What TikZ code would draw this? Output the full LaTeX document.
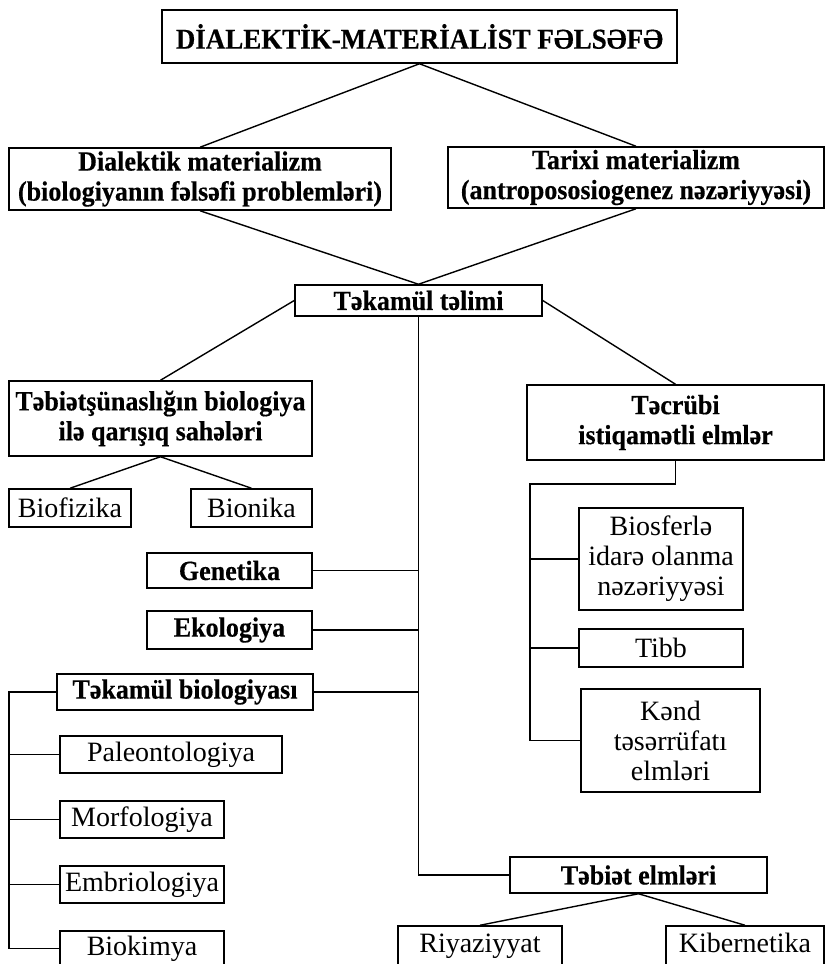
\documentclass[tikz,border=0pt]{standalone}
\usepackage{fontspec}
\setmainfont{Liberation Serif}[BoldFeatures={FakeStretch=0.94,FakeBold=0.4}]
\usepackage{tikz}
\usetikzlibrary{calc}
\tikzset{
	box/.style={draw,line width=1.5pt,inner sep=0pt,align=center,
		font=\fontsize{28}{30}\selectfont},
	bbox/.style={box,font=\fontsize{27.7}{30}\selectfont\bfseries},
	wh/.style 2 args={minimum width=#1pt,minimum height=#2pt},
	base/.style={text height=19pt,text depth=6pt},
	ln/.style={line width=1.4pt}
}

\begin{document}
\begin{tikzpicture}[x=1pt,y=-1pt]
\useasboundingbox (0,0) rectangle (825,964);

%Sommet
\node[bbox,wh={515}{53},font=\fontsize{28.7}{30}\selectfont\bfseries] (titl) at (419.5,36.5) {DİALEKTİK-MATERİALİST FƏLSƏFƏ};
\node[bbox,wh={382}{62}] (dial) at (200,179) {Dialektik materializm\\(biologiyanın fəlsəfi problemləri)};
\node[bbox,wh={376}{61}] (tarx) at (636,177.5) {Tarixi materializm\\(antropososiogenez nəzəriyyəsi)};
\node[bbox,wh={247}{31}] (tkml) at (418.5,300.5) {Təkamül təlimi};

%Branche gauche
\node[bbox,wh={303}{75}] (tbsn) at (160.5,418.5) {Təbiətşünaslığın biologiya\\ilə qarışıq sahələri};
\node[box,wh={122}{38}] (bfz) at (70,508) {Biofizika};
\node[box,wh={121}{38}] (bnk) at (251.5,508) {Bionika};
\node[bbox,wh={165}{35}] (gen) at (229.5,570.5) {Genetika};
\node[bbox,wh={165}{38}] (eko) at (229.5,630) {Ekologiya};
\node[bbox,wh={256}{36}] (tkb) at (185,692) {Təkamül biologiyası};
\node[box,wh={222}{37}] (pal) at (171,754.5) {Paleontologiya};
\node[box,wh={164}{37}] (mor) at (142,819.5) {Morfologiya};
\node[box,wh={164}{37}] (emb) at (142,884.5) {Embriologiya};
\node[box,base,wh={164}{35}] (bkm) at (142,948.5) {Biokimya};

%Branche droite
\node[bbox,wh={297}{75}] (tcr) at (675.5,422.5) {Təcrübi\\istiqamətli elmlər};
\node[box,wh={164}{102}] (bio) at (661,559) {Biosferlə\\idarə olanma\\nəzəriyyəsi};
\node[box,wh={164}{38}] (tib) at (661,648) {Tibb};
\node[box,wh={179}{103}] (knd) at (670.5,740.5) {Kənd\\təsərrüfatı\\elmləri};
\node[bbox,wh={257}{36}] (tbe) at (638.5,875) {Təbiət elmləri};
\node[box,base,wh={164}{39}] (riy) at (480,945.5) {Riyaziyyat};
\node[box,base,wh={158}{39}] (kib) at (745,945.5) {Kibernetika};

%Coudes
\coordinate (lbr) at (9,692);
\coordinate (rbr) at (530,484);

%Liens
\draw[ln] (titl.south) -- (dial.north);
\draw[ln] (titl.south) -- (tarx.north);
\draw[ln] (dial.south) -- (tkml.north) -- (tarx.south);
\draw[ln] (tkml.west) -- (tbsn.north);
\draw[ln] (tkml.east) -- (tcr.north);
\draw[ln] (bfz.north) -- (tbsn.south) -- (bnk.north);
\draw[ln] (riy.north) -- (tbe.south) -- (kib.north);

%Tronc
\draw[ln] (tkml.south) |- (tbe.west);
\foreach \n in {gen,eko,tkb} {
	\draw[ln] (\n.east) -- (tkml.south |- \n.east);
}
\draw[ln] (tkb.west) -- (lbr) |- (bkm.west);
\foreach \n in {pal,mor,emb} {
	\draw[ln] (\n.west) -- (lbr |- \n.west);
}
\draw[ln] (tcr.south) |- (rbr) |- (knd.west);
\foreach \n in {bio,tib} {
	\draw[ln] (\n.west) -- (rbr |- \n.west);
}

\end{tikzpicture}
\end{document}
